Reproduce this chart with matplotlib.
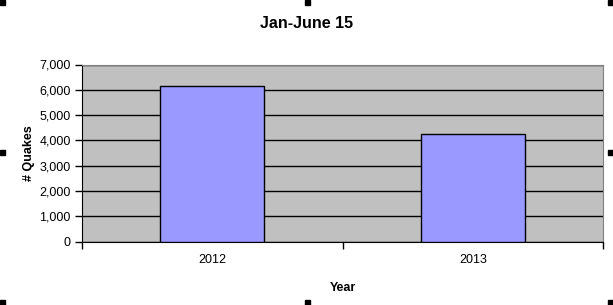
import matplotlib
matplotlib.use('Agg')
from matplotlib import pyplot as plt
from matplotlib.patches import Rectangle
from matplotlib.ticker import FuncFormatter

# data
years = ['2012', '2013']
quakes = [6130, 4240]
yticks = [0, 1000, 2000, 3000, 4000, 5000, 6000, 7000]

plt.rcParams['font.family'] = ['Liberation Sans', 'DejaVu Sans']

fig = plt.figure(figsize=(6.13, 3.05), dpi=100)
fig.patch.set_facecolor('white')
ax = fig.add_axes([82 / 613, 1 - 241.5 / 305, 521 / 613, 177 / 305])
ax.set_facecolor('#C0C0C0')

x = list(range(len(years)))
ax.bar(x, quakes, width=0.4, color='#9999FF', edgecolor='black', linewidth=1, zorder=3)

ax.set_xlim(-0.5, len(years) - 0.5)
ax.set_ylim(0, 7000)
ax.set_yticks(yticks)
ax.yaxis.set_major_formatter(FuncFormatter(lambda v, p: '{:,.0f}'.format(v)))
ax.grid(axis='y', color='black', linewidth=1, zorder=1)
ax.set_axisbelow(True)

# category ticks sit between categories, labels in the middle
ax.set_xticks([i - 0.5 for i in range(len(years) + 1)])
ax.set_xticklabels([])
ax.set_xticks(x, minor=True)
ax.set_xticklabels(years, minor=True)
ax.tick_params(axis='x', which='minor', length=0, pad=9, labelsize=9)
ax.tick_params(axis='x', which='major', length=5, width=1, direction='out', color='black')
ax.tick_params(axis='y', length=5, width=1, direction='out', labelsize=9, pad=3)

for s in ['top', 'right']:
    ax.spines[s].set_color('#808080')
for s in ['left', 'bottom']:
    ax.spines[s].set_color('black')

fig.text(307 / 613, 1 - 23 / 305, 'Jan-June 15', ha='center', va='center',
         fontsize=11.5, fontweight='bold')
ax.set_ylabel('# Quakes', fontsize=9, fontweight='bold')
ax.yaxis.set_label_coords((35 - 82) / 521, 0.5)
ax.set_xlabel('Year', fontsize=9, fontweight='bold')
ax.xaxis.set_label_coords(0.5, (241.5 - 282) / 177)

# excel selection handles
for hx, hy in [(0, 0), (305, 0), (608, 0), (0, 150), (608, 150), (0, 300), (305, 300), (608, 300)]:
    fig.patches.append(Rectangle((hx / 613, 1 - (hy + 5) / 305), 5 / 613, 5 / 305,
                                 transform=fig.transFigure, color='black', figure=fig))

fig.savefig('out.png', dpi=100)
